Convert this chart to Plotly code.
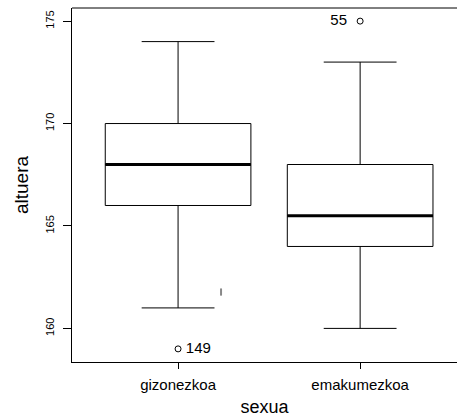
import plotly.graph_objects as go

categories = ["gizonezkoa", "emakumezkoa"]
positions = [1, 2]
q1 = [166, 164]
median = [168, 165.5]
q3 = [170, 168]
lower_whisker = [161, 160]
upper_whisker = [174, 173]

outlier_x = [1, 2]
outlier_y = [159, 175]
outlier_labels = ["149", "55"]
outlier_label_pos = ["middle right", "middle left"]

artifact_x = [1.236, 1.236]
artifact_y = [161.6, 161.95]

y_ticks = [160, 165, 170, 175]

font = "Liberation Sans, Arial, sans-serif"

fig = go.Figure()
for i in range(2):
    fig.add_trace(go.Box(
        x=[positions[i]], q1=[q1[i]], median=[median[i]], q3=[q3[i]],
        lowerfence=[lower_whisker[i]], upperfence=[upper_whisker[i]],
        width=0.8, whiskerwidth=0.5, fillcolor="white",
        line=dict(color="black", width=1), boxpoints=False,
        showlegend=False, hoverinfo="skip"))
    fig.add_trace(go.Scatter(
        x=[positions[i] - 0.4, positions[i] + 0.4], y=[median[i], median[i]],
        mode="lines", line=dict(color="black", width=3),
        showlegend=False, hoverinfo="skip"))

fig.add_trace(go.Scatter(
    x=outlier_x, y=outlier_y, mode="markers+text",
    text=["\u2009" + t if p.endswith("right") else t + "  " for t, p in zip(outlier_labels, outlier_label_pos)],
    textposition=outlier_label_pos,
    textfont=dict(family=font, size=15, color="black"),
    marker=dict(symbol="circle-open", size=6, color="black", line=dict(width=1)),
    showlegend=False, hoverinfo="skip"))

fig.add_trace(go.Scatter(
    x=artifact_x, y=artifact_y, mode="lines",
    line=dict(color="#888888", width=2), showlegend=False, hoverinfo="skip"))

fig.update_layout(
    width=457, height=419,
    margin=dict(l=72, r=0, t=8, b=57),
    plot_bgcolor="white", paper_bgcolor="white",
    font=dict(family=font, color="black"),
    xaxis=dict(range=[0.4174, 2.532], tickvals=positions, ticktext=categories,
               showgrid=False, zeroline=False, showline=True, linecolor="black", linewidth=1,
               ticks="outside", ticklen=6, tickcolor="black",
               tickfont=dict(size=15), ticklabelstandoff=3,
               title=dict(text="sexua", font=dict(size=18), standoff=8)),
    yaxis=dict(range=[158.36, 175.64], tickvals=y_ticks,
               showgrid=False, zeroline=False, showline=True, linecolor="black", linewidth=1,
               ticks="outside", ticklen=8, tickcolor="black", tickangle=-90,
               tickfont=dict(size=11), ticklabelstandoff=5,
               title=dict(text="altuera", font=dict(size=19), standoff=9)),
    shapes=[dict(type="line", xref="paper", yref="paper", x0=0, x1=1, y0=1, y1=1,
                 line=dict(color="black", width=1))],
)

fig.write_html("out.html")
